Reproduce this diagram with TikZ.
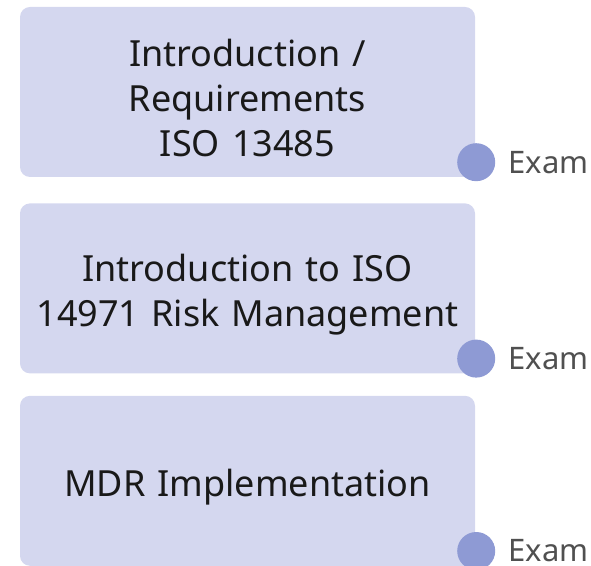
\documentclass[tikz,border=0pt]{standalone}
\usepackage{fontspec}
\setmainfont{Noto Sans}
\usetikzlibrary{positioning}
\definecolor{boxfill}{HTML}{D4D7EF}
\definecolor{dotfill}{HTML}{8E9AD4}
\definecolor{examgray}{HTML}{505050}
\tikzset{
  course/.style={rectangle, rounded corners=10pt, fill=boxfill, minimum width=455pt, minimum height=170pt, text width=445pt, align=center, font=\fontsize{36}{45}\selectfont, text=black!90, execute at begin node={\rule{0pt}{40pt}}},
  examdot/.style={circle, fill=dotfill, minimum size=38pt, inner sep=0pt},
  examlbl/.style={font=\fontsize{31}{36}\selectfont, text=examgray, inner sep=0pt},
}
\begin{document}
\begin{tikzpicture}[x=1pt, y=1pt]
\useasboundingbox (0,0) rectangle (591,565);

\node[course] (iso13485) at (247.5,473) {Introduction /\\Requirements\\ISO 13485};
\node[course, below=26pt of iso13485] (iso14971) {Introduction to ISO\\14971 Risk Management};
\node[course, below=22pt of iso14971] (mdr) {MDR Implementation};

\node[examdot] (dot1) at ([xshift=1pt, yshift=15pt]iso13485.south east) {};
\node[examdot] (dot2) at ([xshift=1pt, yshift=15pt]iso14971.south east) {};
\node[examdot] (dot3) at ([xshift=1pt, yshift=15pt]mdr.south east) {};

\node[examlbl, right=13pt of dot1] (exam1) {Exam};
\node[examlbl, right=13pt of dot2] (exam2) {Exam};
\node[examlbl, right=13pt of dot3] (exam3) {Exam};

\end{tikzpicture}
\end{document}
